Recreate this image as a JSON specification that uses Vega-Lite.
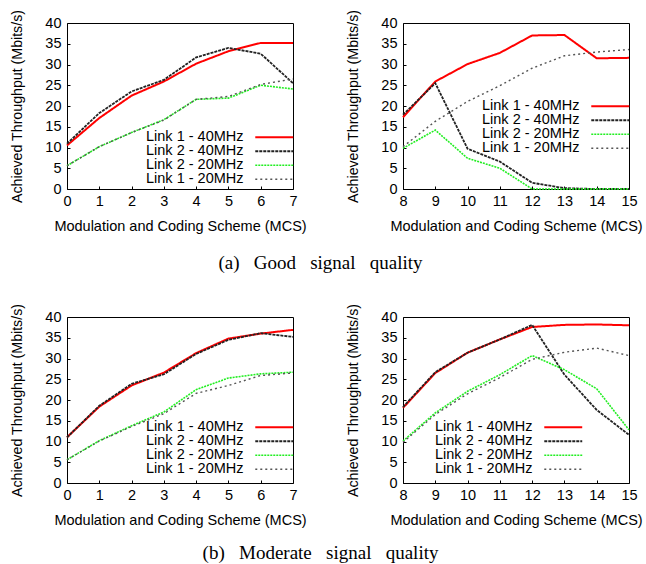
{
  "$schema": "https://vega.github.io/schema/vega-lite/v6.json",
  "padding": {"left": 10, "top": 8, "right": 5, "bottom": 5},
  "config": {
    "view": {"stroke": "#000", "strokeWidth": 1},
    "axis": {"domain": false, "grid": false, "labelFlush": false, "labelFont": "Liberation Sans", "labelFontSize": 14.5, "labelColor": "#000", "titleFont": "Liberation Sans", "titleFontSize": 14.3, "titleFontWeight": "normal", "titleColor": "#000", "tickColor": "#000", "tickSize": -3},
    "axisY": {"titlePadding": 20, "labelPadding": 9, "titleFontSize": 14.2},
    "axisX": {"titlePadding": 12, "labelPadding": 8, "titleFontSize": 14.5},
    "legend": {"orient": "none", "padding": 0, "rowPadding": -1, "labelFont": "Liberation Sans", "labelFontSize": 14.5, "labelColor": "#000", "symbolType": "M-4,0H4", "symbolSize": 90, "symbolOffset": 121, "labelOffset": -135.5, "labelLimit": 0, "title": null},
    "title": {"font": "Liberation Serif", "fontSize": 19, "fontWeight": "normal", "color": "#000", "orient": "bottom", "anchor": "middle", "offset": 20, "dx": -6}
  },
  "datasets": {
    "ga": [
      {"s": "Link 1 - 40MHz", "x": 0, "y": 10.5}, {"s": "Link 1 - 40MHz", "x": 1, "y": 17.1}, {"s": "Link 1 - 40MHz", "x": 2, "y": 22.5}, {"s": "Link 1 - 40MHz", "x": 3, "y": 25.9}, {"s": "Link 1 - 40MHz", "x": 4, "y": 30.2}, {"s": "Link 1 - 40MHz", "x": 5, "y": 33.2}, {"s": "Link 1 - 40MHz", "x": 6, "y": 35.2}, {"s": "Link 1 - 40MHz", "x": 7, "y": 35.2},
      {"s": "Link 2 - 40MHz", "x": 0, "y": 10.9}, {"s": "Link 2 - 40MHz", "x": 1, "y": 18.3}, {"s": "Link 2 - 40MHz", "x": 2, "y": 23.5}, {"s": "Link 2 - 40MHz", "x": 3, "y": 26.3}, {"s": "Link 2 - 40MHz", "x": 4, "y": 31.7}, {"s": "Link 2 - 40MHz", "x": 5, "y": 34.0}, {"s": "Link 2 - 40MHz", "x": 6, "y": 32.6}, {"s": "Link 2 - 40MHz", "x": 7, "y": 25.5},
      {"s": "Link 2 - 20MHz", "x": 0, "y": 5.6}, {"s": "Link 2 - 20MHz", "x": 1, "y": 10.2}, {"s": "Link 2 - 20MHz", "x": 2, "y": 13.6}, {"s": "Link 2 - 20MHz", "x": 3, "y": 16.7}, {"s": "Link 2 - 20MHz", "x": 4, "y": 21.6}, {"s": "Link 2 - 20MHz", "x": 5, "y": 21.9}, {"s": "Link 2 - 20MHz", "x": 6, "y": 25.0}, {"s": "Link 2 - 20MHz", "x": 7, "y": 24.1},
      {"s": "Link 1 - 20MHz", "x": 0, "y": 5.6}, {"s": "Link 1 - 20MHz", "x": 1, "y": 10.2}, {"s": "Link 1 - 20MHz", "x": 2, "y": 13.6}, {"s": "Link 1 - 20MHz", "x": 3, "y": 16.6}, {"s": "Link 1 - 20MHz", "x": 4, "y": 21.6}, {"s": "Link 1 - 20MHz", "x": 5, "y": 22.3}, {"s": "Link 1 - 20MHz", "x": 6, "y": 25.2}, {"s": "Link 1 - 20MHz", "x": 7, "y": 26.5}
    ],
    "gb": [
      {"s": "Link 1 - 40MHz", "x": 8, "y": 17.3}, {"s": "Link 1 - 40MHz", "x": 9, "y": 25.9}, {"s": "Link 1 - 40MHz", "x": 10, "y": 30.1}, {"s": "Link 1 - 40MHz", "x": 11, "y": 32.8}, {"s": "Link 1 - 40MHz", "x": 12, "y": 37.0}, {"s": "Link 1 - 40MHz", "x": 13, "y": 37.1}, {"s": "Link 1 - 40MHz", "x": 14, "y": 31.5}, {"s": "Link 1 - 40MHz", "x": 15, "y": 31.6},
      {"s": "Link 2 - 40MHz", "x": 8, "y": 17.9}, {"s": "Link 2 - 40MHz", "x": 9, "y": 25.5}, {"s": "Link 2 - 40MHz", "x": 10, "y": 9.7}, {"s": "Link 2 - 40MHz", "x": 11, "y": 6.6}, {"s": "Link 2 - 40MHz", "x": 12, "y": 1.5}, {"s": "Link 2 - 40MHz", "x": 13, "y": 0.2}, {"s": "Link 2 - 40MHz", "x": 14, "y": 0}, {"s": "Link 2 - 40MHz", "x": 15, "y": 0},
      {"s": "Link 2 - 20MHz", "x": 8, "y": 9.8}, {"s": "Link 2 - 20MHz", "x": 9, "y": 14.2}, {"s": "Link 2 - 20MHz", "x": 10, "y": 7.4}, {"s": "Link 2 - 20MHz", "x": 11, "y": 5.0}, {"s": "Link 2 - 20MHz", "x": 12, "y": 0}, {"s": "Link 2 - 20MHz", "x": 13, "y": 0}, {"s": "Link 2 - 20MHz", "x": 14, "y": 0}, {"s": "Link 2 - 20MHz", "x": 15, "y": 0},
      {"s": "Link 1 - 20MHz", "x": 8, "y": 10.2}, {"s": "Link 1 - 20MHz", "x": 9, "y": 16.3}, {"s": "Link 1 - 20MHz", "x": 10, "y": 21.1}, {"s": "Link 1 - 20MHz", "x": 11, "y": 24.9}, {"s": "Link 1 - 20MHz", "x": 12, "y": 29.1}, {"s": "Link 1 - 20MHz", "x": 13, "y": 32.1}, {"s": "Link 1 - 20MHz", "x": 14, "y": 33.0}, {"s": "Link 1 - 20MHz", "x": 15, "y": 33.6}
    ],
    "ma": [
      {"s": "Link 1 - 40MHz", "x": 0, "y": 11.0}, {"s": "Link 1 - 40MHz", "x": 1, "y": 18.4}, {"s": "Link 1 - 40MHz", "x": 2, "y": 23.5}, {"s": "Link 1 - 40MHz", "x": 3, "y": 26.6}, {"s": "Link 1 - 40MHz", "x": 4, "y": 31.3}, {"s": "Link 1 - 40MHz", "x": 5, "y": 34.8}, {"s": "Link 1 - 40MHz", "x": 6, "y": 36.0}, {"s": "Link 1 - 40MHz", "x": 7, "y": 36.9},
      {"s": "Link 2 - 40MHz", "x": 0, "y": 11.0}, {"s": "Link 2 - 40MHz", "x": 1, "y": 18.6}, {"s": "Link 2 - 40MHz", "x": 2, "y": 23.9}, {"s": "Link 2 - 40MHz", "x": 3, "y": 26.2}, {"s": "Link 2 - 40MHz", "x": 4, "y": 31.1}, {"s": "Link 2 - 40MHz", "x": 5, "y": 34.5}, {"s": "Link 2 - 40MHz", "x": 6, "y": 36.1}, {"s": "Link 2 - 40MHz", "x": 7, "y": 35.2},
      {"s": "Link 2 - 20MHz", "x": 0, "y": 5.6}, {"s": "Link 2 - 20MHz", "x": 1, "y": 10.2}, {"s": "Link 2 - 20MHz", "x": 2, "y": 13.8}, {"s": "Link 2 - 20MHz", "x": 3, "y": 17.1}, {"s": "Link 2 - 20MHz", "x": 4, "y": 22.5}, {"s": "Link 2 - 20MHz", "x": 5, "y": 25.3}, {"s": "Link 2 - 20MHz", "x": 6, "y": 26.3}, {"s": "Link 2 - 20MHz", "x": 7, "y": 26.7},
      {"s": "Link 1 - 20MHz", "x": 0, "y": 5.6}, {"s": "Link 1 - 20MHz", "x": 1, "y": 10.1}, {"s": "Link 1 - 20MHz", "x": 2, "y": 13.6}, {"s": "Link 1 - 20MHz", "x": 3, "y": 16.7}, {"s": "Link 1 - 20MHz", "x": 4, "y": 21.6}, {"s": "Link 1 - 20MHz", "x": 5, "y": 23.5}, {"s": "Link 1 - 20MHz", "x": 6, "y": 25.9}, {"s": "Link 1 - 20MHz", "x": 7, "y": 26.5}
    ],
    "mb": [
      {"s": "Link 1 - 40MHz", "x": 8, "y": 18.1}, {"s": "Link 1 - 40MHz", "x": 9, "y": 26.5}, {"s": "Link 1 - 40MHz", "x": 10, "y": 31.4}, {"s": "Link 1 - 40MHz", "x": 11, "y": 34.6}, {"s": "Link 1 - 40MHz", "x": 12, "y": 37.6}, {"s": "Link 1 - 40MHz", "x": 13, "y": 38.1}, {"s": "Link 1 - 40MHz", "x": 14, "y": 38.2}, {"s": "Link 1 - 40MHz", "x": 15, "y": 38.0},
      {"s": "Link 2 - 40MHz", "x": 8, "y": 18.3}, {"s": "Link 2 - 40MHz", "x": 9, "y": 26.7}, {"s": "Link 2 - 40MHz", "x": 10, "y": 31.4}, {"s": "Link 2 - 40MHz", "x": 11, "y": 34.6}, {"s": "Link 2 - 40MHz", "x": 12, "y": 38.1}, {"s": "Link 2 - 40MHz", "x": 13, "y": 26.1}, {"s": "Link 2 - 40MHz", "x": 14, "y": 17.6}, {"s": "Link 2 - 40MHz", "x": 15, "y": 11.6},
      {"s": "Link 2 - 20MHz", "x": 8, "y": 10.1}, {"s": "Link 2 - 20MHz", "x": 9, "y": 16.9}, {"s": "Link 2 - 20MHz", "x": 10, "y": 22.1}, {"s": "Link 2 - 20MHz", "x": 11, "y": 26.1}, {"s": "Link 2 - 20MHz", "x": 12, "y": 30.7}, {"s": "Link 2 - 20MHz", "x": 13, "y": 27.3}, {"s": "Link 2 - 20MHz", "x": 14, "y": 22.7}, {"s": "Link 2 - 20MHz", "x": 15, "y": 12.8},
      {"s": "Link 1 - 20MHz", "x": 8, "y": 9.8}, {"s": "Link 1 - 20MHz", "x": 9, "y": 16.5}, {"s": "Link 1 - 20MHz", "x": 10, "y": 21.5}, {"s": "Link 1 - 20MHz", "x": 11, "y": 25.4}, {"s": "Link 1 - 20MHz", "x": 12, "y": 29.8}, {"s": "Link 1 - 20MHz", "x": 13, "y": 31.5}, {"s": "Link 1 - 20MHz", "x": 14, "y": 32.5}, {"s": "Link 1 - 20MHz", "x": 15, "y": 30.7}
    ]
  },
  "vconcat": [
    {
      "title": {"text": "(a)\u00a0\u00a0\u00a0Good\u00a0\u00a0\u00a0signal\u00a0\u00a0\u00a0quality"},
      "spacing": 39,
      "hconcat": [
        {
          "data": {"name": "ga"}, "width": 226, "height": 166,
          "mark": {"type": "line"},
          "encoding": {
            "x": {"field": "x", "type": "quantitative", "scale": {"domain": [0, 7], "nice": false}, "axis": {"values": [0, 1, 2, 3, 4, 5, 6, 7], "title": "Modulation and Coding Scheme (MCS)"}},
            "y": {"field": "y", "type": "quantitative", "scale": {"domain": [0, 40], "nice": false}, "axis": {"values": [0, 5, 10, 15, 20, 25, 30, 35, 40], "title": "Achieved Throughput (Mbits/s)"}},
            "color": {"field": "s", "type": "nominal", "scale": {"domain": ["Link 1 - 40MHz", "Link 2 - 40MHz", "Link 2 - 20MHz", "Link 1 - 20MHz"], "range": ["#ff0000", "#222222", "#22ee22", "#555555"]}, "legend": {"legendX": 79, "legendY": 107}},
            "strokeDash": {"field": "s", "type": "nominal", "scale": {"domain": ["Link 1 - 40MHz", "Link 2 - 40MHz", "Link 2 - 20MHz", "Link 1 - 20MHz"], "range": [[1, 0], [3, 1], [2, 1], [2, 3]]}, "legend": {"legendX": 79, "legendY": 107}},
            "strokeWidth": {"field": "s", "type": "nominal", "scale": {"domain": ["Link 1 - 40MHz", "Link 2 - 40MHz", "Link 2 - 20MHz", "Link 1 - 20MHz"], "range": [2, 1.4, 2, 1.2]}, "legend": {"legendX": 79, "legendY": 107}}
          }
        },
        {
          "data": {"name": "gb"}, "width": 226, "height": 166,
          "mark": {"type": "line"},
          "encoding": {
            "x": {"field": "x", "type": "quantitative", "scale": {"domain": [8, 15], "nice": false}, "axis": {"values": [8, 9, 10, 11, 12, 13, 14, 15], "title": "Modulation and Coding Scheme (MCS)"}},
            "y": {"field": "y", "type": "quantitative", "scale": {"domain": [0, 40], "nice": false}, "axis": {"values": [0, 5, 10, 15, 20, 25, 30, 35, 40], "title": "Achieved Throughput (Mbits/s)"}},
            "color": {"field": "s", "type": "nominal", "scale": {"domain": ["Link 1 - 40MHz", "Link 2 - 40MHz", "Link 2 - 20MHz", "Link 1 - 20MHz"], "range": ["#ff0000", "#222222", "#22ee22", "#555555"]}, "legend": {"legendX": 79, "legendY": 76}},
            "strokeDash": {"field": "s", "type": "nominal", "scale": {"domain": ["Link 1 - 40MHz", "Link 2 - 40MHz", "Link 2 - 20MHz", "Link 1 - 20MHz"], "range": [[1, 0], [3, 1], [2, 1], [2, 3]]}, "legend": {"legendX": 79, "legendY": 76}},
            "strokeWidth": {"field": "s", "type": "nominal", "scale": {"domain": ["Link 1 - 40MHz", "Link 2 - 40MHz", "Link 2 - 20MHz", "Link 1 - 20MHz"], "range": [2, 1.4, 2, 1.2]}, "legend": {"legendX": 79, "legendY": 76}}
          }
        }
      ],
      "resolve": {"scale": {"x": "independent", "y": "independent", "color": "independent", "strokeDash": "independent", "strokeWidth": "independent"}, "legend": {"color": "independent", "strokeDash": "independent", "strokeWidth": "independent"}}
    },
    {
      "title": {"text": "(b)\u00a0\u00a0\u00a0Moderate\u00a0\u00a0\u00a0signal\u00a0\u00a0\u00a0quality", "offset": 16},
      "spacing": 39,
      "hconcat": [
        {
          "data": {"name": "ma"}, "width": 226, "height": 166,
          "mark": {"type": "line"},
          "encoding": {
            "x": {"field": "x", "type": "quantitative", "scale": {"domain": [0, 7], "nice": false}, "axis": {"values": [0, 1, 2, 3, 4, 5, 6, 7], "title": "Modulation and Coding Scheme (MCS)"}},
            "y": {"field": "y", "type": "quantitative", "scale": {"domain": [0, 40], "nice": false}, "axis": {"values": [0, 5, 10, 15, 20, 25, 30, 35, 40], "title": "Achieved Throughput (Mbits/s)"}},
            "color": {"field": "s", "type": "nominal", "scale": {"domain": ["Link 1 - 40MHz", "Link 2 - 40MHz", "Link 2 - 20MHz", "Link 1 - 20MHz"], "range": ["#ff0000", "#222222", "#22ee22", "#555555"]}, "legend": {"legendX": 79, "legendY": 103}},
            "strokeDash": {"field": "s", "type": "nominal", "scale": {"domain": ["Link 1 - 40MHz", "Link 2 - 40MHz", "Link 2 - 20MHz", "Link 1 - 20MHz"], "range": [[1, 0], [3, 1], [2, 1], [2, 3]]}, "legend": {"legendX": 79, "legendY": 103}},
            "strokeWidth": {"field": "s", "type": "nominal", "scale": {"domain": ["Link 1 - 40MHz", "Link 2 - 40MHz", "Link 2 - 20MHz", "Link 1 - 20MHz"], "range": [2, 1.4, 2, 1.2]}, "legend": {"legendX": 79, "legendY": 103}}
          }
        },
        {
          "data": {"name": "mb"}, "width": 226, "height": 166,
          "mark": {"type": "line"},
          "encoding": {
            "x": {"field": "x", "type": "quantitative", "scale": {"domain": [8, 15], "nice": false}, "axis": {"values": [8, 9, 10, 11, 12, 13, 14, 15], "title": "Modulation and Coding Scheme (MCS)"}},
            "y": {"field": "y", "type": "quantitative", "scale": {"domain": [0, 40], "nice": false}, "axis": {"values": [0, 5, 10, 15, 20, 25, 30, 35, 40], "title": "Achieved Throughput (Mbits/s)"}},
            "color": {"field": "s", "type": "nominal", "scale": {"domain": ["Link 1 - 40MHz", "Link 2 - 40MHz", "Link 2 - 20MHz", "Link 1 - 20MHz"], "range": ["#ff0000", "#222222", "#22ee22", "#555555"]}, "legend": {"legendX": 32, "legendY": 103}},
            "strokeDash": {"field": "s", "type": "nominal", "scale": {"domain": ["Link 1 - 40MHz", "Link 2 - 40MHz", "Link 2 - 20MHz", "Link 1 - 20MHz"], "range": [[1, 0], [3, 1], [2, 1], [2, 3]]}, "legend": {"legendX": 32, "legendY": 103}},
            "strokeWidth": {"field": "s", "type": "nominal", "scale": {"domain": ["Link 1 - 40MHz", "Link 2 - 40MHz", "Link 2 - 20MHz", "Link 1 - 20MHz"], "range": [2, 1.4, 2, 1.2]}, "legend": {"legendX": 32, "legendY": 103}}
          }
        }
      ],
      "resolve": {"scale": {"x": "independent", "y": "independent", "color": "independent", "strokeDash": "independent", "strokeWidth": "independent"}, "legend": {"color": "independent", "strokeDash": "independent", "strokeWidth": "independent"}}
    }
  ],
  "spacing": 29
}
